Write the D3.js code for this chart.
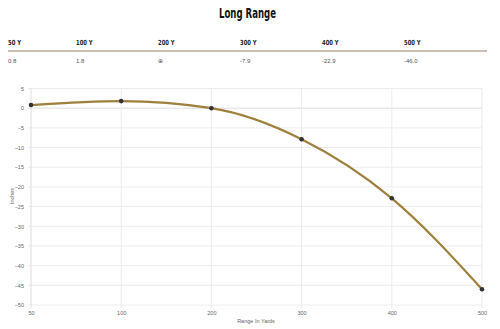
<!DOCTYPE html>
<html>
<head>
<meta charset="utf-8">
<script src="https://cdn.jsdelivr.net/npm/d3@7"></script>
<style>
  html, body { margin: 0; padding: 0; background: #fff; }
  svg { display: block; }
</style>
</head>
<body>
<svg id="chart" width="500" height="329"></svg>
<script>
// Drop table for the long-range load
const ranges = ["50", "100", "200", "300", "400", "500"];
const headerLabels = ["50 Y", "100 Y", "200 Y", "300 Y", "400 Y", "500 Y"];
const headerValues = ["0.8", "1.8", "\u2295", "-7.9", "-22.9", "-46.0"];
const drop = [0.8, 1.8, 0, -7.9, -22.9, -46.0];
const yTicks = [5, 0, -5, -10, -15, -20, -25, -30, -35, -40, -45, -50];

const svg = d3.select("#chart");
const condensed = "'DejaVu Sans Condensed', 'DejaVu Sans', sans-serif";
const plain = "'Helvetica Neue', 'Liberation Sans', Arial, sans-serif";

// Title, squeezed into a narrow display face
svg.append("text")
  .attr("x", 247.5).attr("y", 17.5)
  .attr("text-anchor", "middle")
  .attr("textLength", 57)
  .attr("lengthAdjust", "spacingAndGlyphs")
  .style("font-family", condensed)
  .style("font-weight", "bold")
  .style("font-size", "14.5px")
  .attr("fill", "#111")
  .text("Long Range");

// Header table: the first column is narrower than the rest
const colX = i => i === 0 ? 8 : 76 + (i - 1) * 82;
const labelWidth = d => d.length * 3.3;
svg.append("g").selectAll("text").data(headerLabels).join("text")
  .attr("x", (d, i) => colX(i)).attr("y", 45)
  .attr("textLength", labelWidth)
  .attr("lengthAdjust", "spacingAndGlyphs")
  .style("font-family", condensed)
  .style("font-weight", "bold")
  .style("font-size", "7px")
  .attr("fill", "#222")
  .text(d => d);

svg.append("line")
  .attr("x1", 8).attr("x2", 487).attr("y1", 51).attr("y2", 51)
  .attr("stroke", "#b8aa94").attr("stroke-width", 1.6);

svg.append("g").selectAll("text").data(headerValues).join("text")
  .attr("x", (d, i) => colX(i)).attr("y", 63)
  .style("font-family", plain)
  .style("font-size", d => d === "\u2295" ? "5.5px" : "6px")
  .attr("fill", "#555")
  .text(d => d);

// Plot
const x = d3.scalePoint().domain(ranges).range([31, 482]);
const y = d3.scaleLinear().domain([-50, 5]).range([305, 88.5]);

const grid = svg.append("g");
grid.selectAll("line.h").data(yTicks).join("line")
  .attr("class", "h")
  .attr("x1", 28).attr("x2", 482)
  .attr("y1", d => y(d)).attr("y2", d => y(d))
  .attr("stroke", d => d === 0 ? "#dcdcdc" : "#ececec")
  .attr("stroke-width", 1);
grid.selectAll("line.v").data(ranges).join("line")
  .attr("class", "v")
  .attr("x1", d => x(d)).attr("x2", d => x(d))
  .attr("y1", 88.5).attr("y2", 308)
  .attr("stroke", (d, i) => i === 0 ? "#dcdcdc" : "#ececec")
  .attr("stroke-width", 1);

// Axis labels
const yAxis = d3.axisLeft(y).tickValues(yTicks).tickSize(0).tickPadding(7);
svg.append("g").attr("transform", "translate(31,0)").call(yAxis)
  .call(g => g.select(".domain").remove())
  .call(g => g.selectAll("text").style("font-family", plain).style("font-size", "5.5px").attr("fill", "#666"));

const xAxis = d3.axisBottom(x).tickSize(0).tickPadding(6);
svg.append("g").attr("transform", "translate(0,305)").call(xAxis)
  .call(g => g.select(".domain").remove())
  .call(g => g.selectAll("text").style("font-family", plain).style("font-size", "5.5px").attr("fill", "#666"));

svg.append("text")
  .attr("x", 256).attr("y", 323)
  .attr("text-anchor", "middle")
  .style("font-family", plain).style("font-size", "5.5px").attr("fill", "#666")
  .text("Range In Yards");

svg.append("text")
  .attr("transform", "translate(14,196) rotate(-90)")
  .attr("text-anchor", "middle")
  .style("font-family", plain).style("font-size", "5.5px").attr("fill", "#666")
  .text("Inches");

// Trajectory line
const line = d3.line()
  .x((d, i) => x(ranges[i]))
  .y(d => y(d))
  .curve(d3.curveMonotoneX);

svg.append("path")
  .datum(drop)
  .attr("d", line)
  .attr("fill", "none")
  .attr("stroke", "#9e7f3c")
  .attr("stroke-width", 2.2);

svg.append("g").selectAll("circle").data(drop).join("circle")
  .attr("cx", (d, i) => x(ranges[i]))
  .attr("cy", d => y(d))
  .attr("r", 2.3)
  .attr("fill", "#333");
</script>
</body>
</html>
